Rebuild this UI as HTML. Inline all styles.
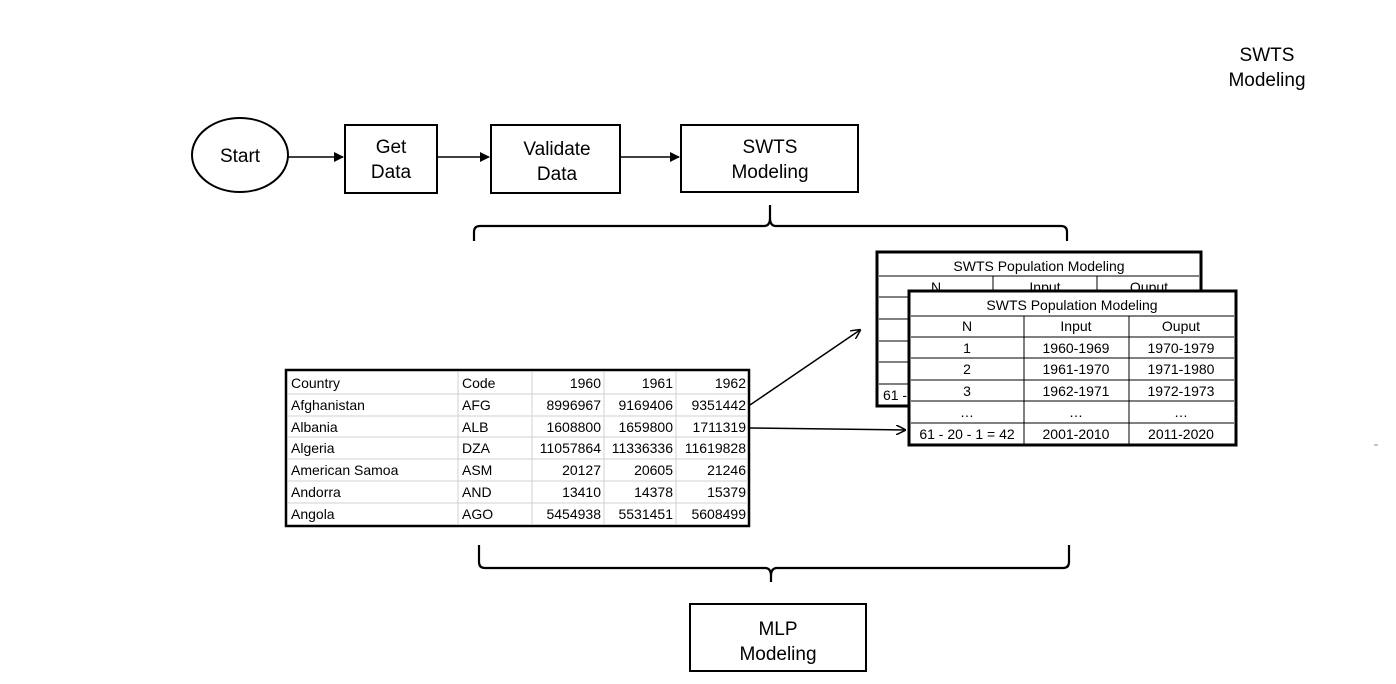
<!DOCTYPE html>
<html><head><meta charset="utf-8"><style>
body{margin:0;background:#fff;}
svg{display:block;font-family:"Liberation Sans",sans-serif;}
.t{font-family:"Liberation Sans",sans-serif;}
</style></head><body>
<svg width="1396" height="684" viewBox="0 0 1396 684" xmlns="http://www.w3.org/2000/svg">
<defs><marker id="a" markerWidth="10" markerHeight="10" refX="9" refY="5" orient="auto" markerUnits="userSpaceOnUse"><path d="M0,0 L10,5 L0,10" fill="none" stroke="#000" stroke-width="1.5"/></marker>
<marker id="b" markerWidth="10" markerHeight="10" refX="9" refY="5" orient="auto" markerUnits="userSpaceOnUse"><path d="M0,0 L10,5 L0,10 Z" fill="#000"/></marker></defs>
<g fill="none" stroke="#000" stroke-width="2">
<ellipse cx="240" cy="155" rx="48" ry="37"/>
<rect x="345" y="125" width="92" height="68"/>
<rect x="491" y="125" width="129" height="68"/>
<rect x="681" y="125" width="177" height="67"/>
<rect x="690" y="604" width="176" height="67"/>
</g>
<g stroke="#000" stroke-width="1.5">
<line x1="288" y1="157" x2="343" y2="157" marker-end="url(#b)"/>
<line x1="437" y1="157" x2="489" y2="157" marker-end="url(#b)"/>
<line x1="620" y1="157" x2="679" y2="157" marker-end="url(#b)"/>
</g>
<g font-size="19" text-anchor="middle" fill="#000">
<text x="240" y="162">Start</text>
<text x="391" y="153">Get</text><text x="391" y="178">Data</text>
<text x="557" y="155">Validate</text><text x="557" y="180">Data</text>
<text x="770" y="153">SWTS</text><text x="770" y="178">Modeling</text>
<text x="778" y="635">MLP</text><text x="778" y="660">Modeling</text>
<text x="1267" y="61">SWTS</text><text x="1267" y="86">Modeling</text>
</g>
<g fill="none" stroke="#000" stroke-width="2.2">
<path d="M474,241 L474,232 Q474,226 480,226 L764,226 Q770,226 770,218 L770,205 M770,218 Q770,226 776,226 L1061,226 Q1067,226 1067,232 L1067,241"/>
<path d="M479,545 L479,562 Q479,568 485,568 L765,568 Q771,568 771,576 L771,582 M771,576 Q771,568 777,568 L1063,568 Q1069,568 1069,562 L1069,545"/>
</g>
<!-- left table -->
<rect x="286" y="370" width="463" height="156" fill="none" stroke="#000" stroke-width="2.5"/>
<g stroke="#d0d0d0" stroke-width="1">
<line x1="458" y1="372" x2="458" y2="525"/><line x1="532" y1="372" x2="532" y2="525"/>
<line x1="604" y1="372" x2="604" y2="525"/><line x1="676" y1="372" x2="676" y2="525"/>
<line x1="288" y1="394" x2="748" y2="394"/><line x1="288" y1="416" x2="748" y2="416"/>
<line x1="288" y1="437" x2="748" y2="437"/><line x1="288" y1="459" x2="748" y2="459"/>
<line x1="288" y1="481" x2="748" y2="481"/><line x1="288" y1="503" x2="748" y2="503"/>
</g>
<g font-size="14" fill="#000">
<g><text x="291" y="388">Country</text><text x="462" y="388">Code</text></g>
<text x="291" y="410">Afghanistan</text><text x="462" y="410">AFG</text>
<text x="291" y="432">Albania</text><text x="462" y="432">ALB</text>
<text x="291" y="453">Algeria</text><text x="462" y="453">DZA</text>
<text x="291" y="475">American Samoa</text><text x="462" y="475">ASM</text>
<text x="291" y="497">Andorra</text><text x="462" y="497">AND</text>
<text x="291" y="519">Angola</text><text x="462" y="519">AGO</text>
<g text-anchor="end">
<text x="601" y="388">1960</text><text x="673" y="388">1961</text><text x="746" y="388">1962</text>
<text x="601" y="410">8996967</text><text x="673" y="410">9169406</text><text x="746" y="410">9351442</text>
<text x="601" y="432">1608800</text><text x="673" y="432">1659800</text><text x="746" y="432">1711319</text>
<text x="601" y="453">11057864</text><text x="673" y="453">11336336</text><text x="746" y="453">11619828</text>
<text x="601" y="475">20127</text><text x="673" y="475">20605</text><text x="746" y="475">21246</text>
<text x="601" y="497">13410</text><text x="673" y="497">14378</text><text x="746" y="497">15379</text>
<text x="601" y="519">5454938</text><text x="673" y="519">5531451</text><text x="746" y="519">5608499</text>
</g></g>
<g stroke="#000" stroke-width="1.5" fill="none">
<line x1="750" y1="405" x2="860" y2="330" marker-end="url(#a)"/>
<line x1="750" y1="428" x2="905" y2="430" marker-end="url(#a)"/>
</g>
<!-- back table -->
<rect x="877" y="252" width="324" height="154" fill="#fff" stroke="#000" stroke-width="3"/>
<g stroke="#000" stroke-width="1">
<line x1="879" y1="276" x2="1199" y2="276"/><line x1="879" y1="297" x2="1199" y2="297"/>
<line x1="879" y1="319" x2="1199" y2="319"/><line x1="879" y1="341" x2="1199" y2="341"/>
<line x1="879" y1="362" x2="1199" y2="362"/><line x1="879" y1="384" x2="1199" y2="384"/>
<line x1="993" y1="276" x2="993" y2="297"/><line x1="1097" y1="276" x2="1097" y2="297"/>
</g>
<g font-size="14" text-anchor="middle"><text x="1039" y="271">SWTS Population Modeling</text>
<text x="936" y="292">N</text><text x="1045" y="292">Input</text><text x="1149" y="292">Ouput</text>
<text x="895" y="400">61 -</text></g>
<!-- front table -->
<rect x="909" y="291" width="327" height="154" fill="#fff" stroke="#000" stroke-width="3"/>
<g stroke="#000" stroke-width="1">
<line x1="911" y1="316" x2="1234" y2="316"/><line x1="911" y1="337" x2="1234" y2="337"/>
<line x1="911" y1="358" x2="1234" y2="358"/><line x1="911" y1="380" x2="1234" y2="380"/>
<line x1="911" y1="401" x2="1234" y2="401"/><line x1="911" y1="423" x2="1234" y2="423"/>
<line x1="1024" y1="316" x2="1024" y2="444"/><line x1="1129" y1="316" x2="1129" y2="444"/>
</g>
<g font-size="14" text-anchor="middle">
<text x="1072" y="310">SWTS Population Modeling</text>
<text x="967" y="331">N</text><text x="1076" y="331">Input</text><text x="1181" y="331">Ouput</text>
<text x="967" y="353">1</text><text x="1076" y="353">1960-1969</text><text x="1181" y="353">1970-1979</text>
<text x="967" y="374">2</text><text x="1076" y="374">1961-1970</text><text x="1181" y="374">1971-1980</text>
<text x="967" y="396">3</text><text x="1076" y="396">1962-1971</text><text x="1181" y="396">1972-1973</text>
<text x="967" y="417">…</text><text x="1076" y="417">…</text><text x="1181" y="417">…</text>
<text x="967" y="439">61 - 20 - 1 = 42</text><text x="1076" y="439">2001-2010</text><text x="1181" y="439">2011-2020</text>
</g>
<line x1="1374" y1="445" x2="1378" y2="445" stroke="#888" stroke-width="1"/>
</svg>
</body></html>
